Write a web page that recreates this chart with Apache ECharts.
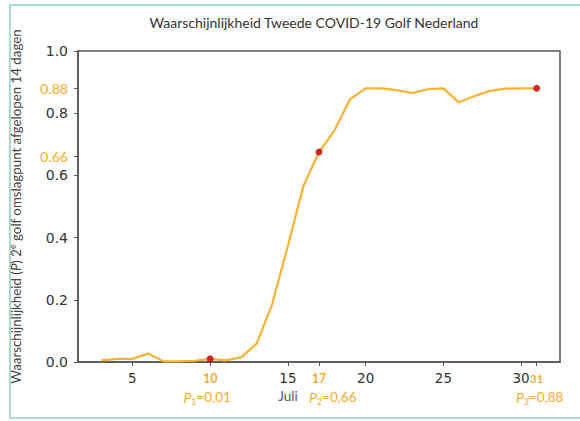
<!DOCTYPE html>
<html>
<head>
<meta charset="utf-8">
<script src="https://cdn.jsdelivr.net/npm/echarts@6/dist/echarts.min.js"></script>
<style>
  html, body { margin: 0; padding: 0; background: #fff; }
  #main { width: 580px; height: 421px; }
</style>
</head>
<body>
<div id="main"></div>
<script>
// dagen in juli
var days = [3, 4, 5, 6, 7, 8, 9, 10, 11, 12, 13, 14, 15, 16, 17, 18, 19, 20, 21, 22, 23, 24, 25, 26, 27, 28, 29, 30, 31];
// waarschijnlijkheid P per dag
var probs = [0.005, 0.010, 0.010, 0.027, 0.002, 0.002, 0.004, 0.010, 0.005, 0.015, 0.060, 0.188, 0.374, 0.566, 0.675,
  0.745, 0.845, 0.880, 0.880, 0.874, 0.865, 0.877, 0.880, 0.835, 0.855, 0.872, 0.879, 0.880, 0.880];
// gemarkeerde punten
var markDays = [10, 17, 31];
var markValues = [0.01, 0.675, 0.88];
var markLabels = ['0,01', '0,66', '0,88'];
// as-labels
var xTicks = [5, 10, 15, 17, 20, 25, 30, 31];
var yTicks = [0, 0.2, 0.4, 0.6, 0.66, 0.8, 0.88, 1.0];
var yHighlight = [0.66, 0.88];

var orange = '#f6ac2f';
var axisColor = '#555';

var chart = echarts.init(document.getElementById('main'), null, { renderer: 'svg' });

var lineData = days.map(function (d, i) { return [d, probs[i]]; });
var dotData = markDays.map(function (d, i) { return [d, markValues[i]]; });

var pRich = {
  pi: { fontFamily: 'Lato', fontSize: 14, fontStyle: 'italic', fill: orange, color: orange, lineHeight: 18 },
  sub: { fontFamily: 'Lato', fontSize: 9, fill: orange, color: orange, lineHeight: 18, verticalAlign: 'bottom' },
  pv: { fontFamily: 'Lato', fontSize: 13.5, fill: orange, color: orange, lineHeight: 18 }
};

var option = {
  animation: false,
  graphic: [
    {
      id: 'frame',
      type: 'rect',
      shape: { x: 10, y: 5, width: 600, height: 413 },
      style: { fill: 'none', stroke: '#a6dccb', lineWidth: 2 },
      silent: true
    },
    {
      id: 'title',
      type: 'text',
      x: 314,
      y: 22,
      style: {
        text: 'Waarschijnlijkheid Tweede COVID-19 Golf Nederland',
        fontFamily: 'Lato', fontSize: 14, fill: '#333',
        textAlign: 'center', textVerticalAlign: 'middle'
      },
      silent: true
    }
  ],
  grid: {
    left: 73, right: 20, top: 51, bottom: 59,
    show: true, borderColor: axisColor, borderWidth: 1.5, backgroundColor: '#fff'
  },
  xAxis: {
    type: 'value',
    min: 1.5,
    max: 32.5,
    splitLine: { show: false },
    axisLine: { lineStyle: { color: axisColor, width: 1.5 } },
    axisTick: { customValues: xTicks, length: 4, lineStyle: { color: axisColor } },
    axisLabel: {
      customValues: xTicks,
      hideOverlap: false,
      margin: 7,
      formatter: function (v) {
        if (v === 31) return '{o2|31}';
        if (markDays.indexOf(v) >= 0) return '{o|' + v + '}';
        if (v === 15) return '{d|15}\n{j|Juli}';
        return '{d|' + v + '}';
      },
      rich: {
        d: { fontFamily: 'DejaVu Sans', fontSize: 13.5, color: '#333', lineHeight: 18 },
        o: { fontFamily: 'Lato', fontSize: 12.5, fontWeight: 'bold', color: orange, lineHeight: 18 },
        o2: { fontFamily: 'Lato', fontSize: 11.5, fontWeight: 'bold', color: orange, lineHeight: 18 },
        j: { fontFamily: 'Lato', fontSize: 13.5, color: '#555', lineHeight: 18 }
      }
    }
  },
  yAxis: {
    type: 'value',
    min: 0,
    max: 1,
    name: '{n|Waarschijnlijkheid (}{i|P}{n|) 2}{sup|e}{n| golf omslagpunt afgelopen 14 dagen}',
    nameLocation: 'middle',
    nameRotate: 90,
    nameGap: 54,
    nameTextStyle: {
      rich: {
        n: { fontFamily: 'Lato', fontSize: 13.3, color: '#444', lineHeight: 16 },
        i: { fontFamily: 'Lato', fontSize: 13.3, fontStyle: 'italic', color: '#444', lineHeight: 16 },
        sup: { fontFamily: 'Lato', fontSize: 8.5, color: '#444', lineHeight: 16, verticalAlign: 'top' }
      }
    },
    splitLine: { show: false },
    axisLine: { show: true, lineStyle: { color: axisColor, width: 1.5 } },
    axisTick: { show: true, customValues: yTicks, length: 4, lineStyle: { color: axisColor } },
    axisLabel: {
      customValues: yTicks,
      margin: 10,
      formatter: function (v) {
        if (yHighlight.indexOf(v) >= 0) return '{o|' + v.toFixed(2) + '}';
        return '{d|' + v.toFixed(1) + '}';
      },
      rich: {
        d: { fontFamily: 'DejaVu Sans', fontSize: 14, color: '#333' },
        o: { fontFamily: 'Lato', fontSize: 14, color: orange }
      }
    }
  },
  series: [
    {
      type: 'line',
      data: lineData,
      showSymbol: false,
      lineStyle: { color: '#f9b233', width: 2.2 },
      z: 2
    },
    {
      type: 'scatter',
      data: dotData,
      symbolSize: 7,
      itemStyle: { color: '#c00000' },
      z: 3
    }
  ]
};

chart.setOption(option);

// P-annotaties onder de as, geplaatst via de schaal van de x-as
var pShift = [-3, -10, 3];
var pAlign = ['center', 'left', 'center'];
var pGraphics = markDays.map(function (d, k) {
  var px = chart.convertToPixel({ xAxisIndex: 0 }, d);
  return {
    id: 'p' + k,
    type: 'text',
    x: px + pShift[k],
    y: 397,
    style: {
      text: '{pi|P}{sub|' + (k + 1) + '}{pv|=' + markLabels[k] + '}',
      rich: pRich,
      textAlign: pAlign[k],
      textVerticalAlign: 'middle'
    },
    silent: true
  };
});
chart.setOption({ graphic: pGraphics });
</script>
</body>
</html>
